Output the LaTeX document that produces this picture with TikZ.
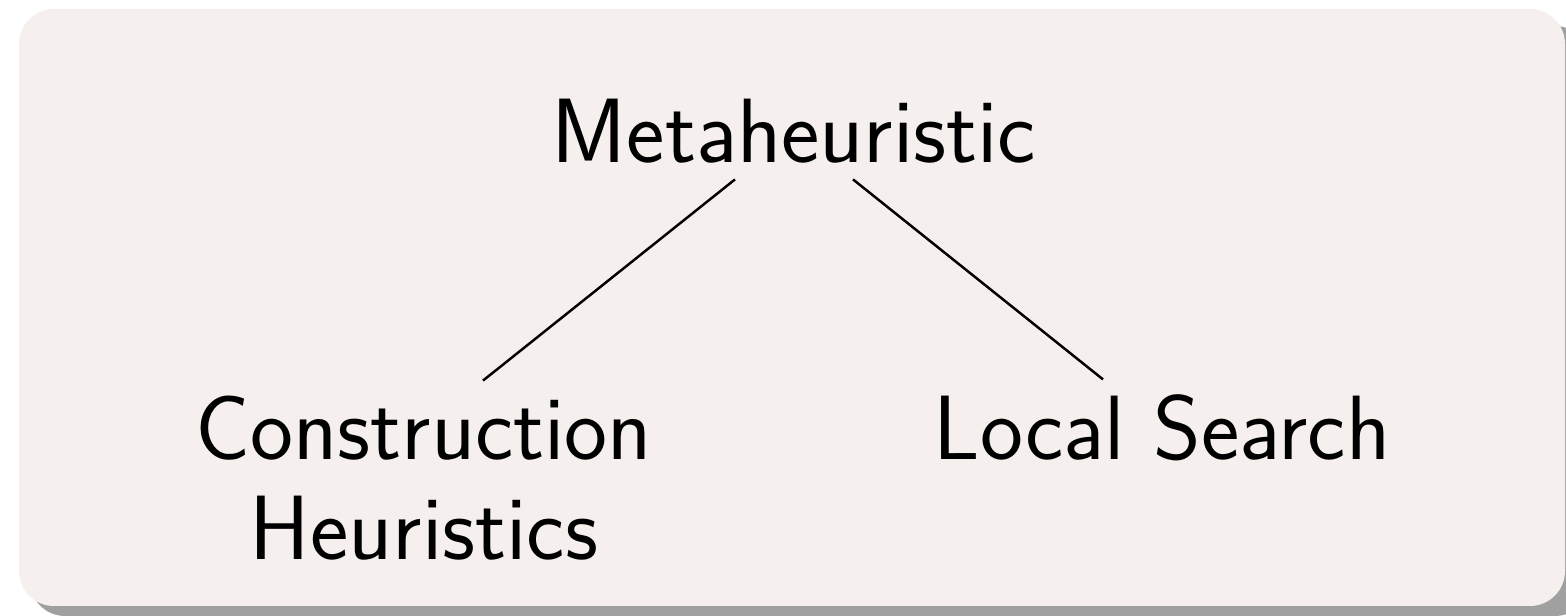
\documentclass[tikz,border=0pt]{standalone}
\definecolor{blockbg}{RGB}{245,240,238}
\definecolor{blockshadow}{RGB}{160,160,160}
\begin{document}
\begin{tikzpicture}
\tikzset{word/.style={font=\sffamily\fontsize{26}{28.5}\selectfont,inner sep=0.15cm,align=center}}
\useasboundingbox (0,0) rectangle (15.66,6.16);
\fill[blockshadow,rounded corners=0.35cm] (0.3,0) rectangle (15.9,5.9);
\fill[blockbg,rounded corners=0.35cm] (0.19,0.10) rectangle (15.65,6.07);
\node[word,anchor=base] (meta) at (7.94,4.53) {Metaheuristic};
\node[word,anchor=base] (cons) at (4.24,0.56) {Construction\\Heuristics};
\node[word,anchor=base] (local) at (11.62,1.56) {Local Search};
\draw[line width=0.7pt] ([xshift=-0.59cm]meta.south)--([xshift=0.59cm]cons.north)
  ([xshift=0.59cm]meta.south)--([xshift=-0.59cm]local.north);
\end{tikzpicture}
\end{document}
